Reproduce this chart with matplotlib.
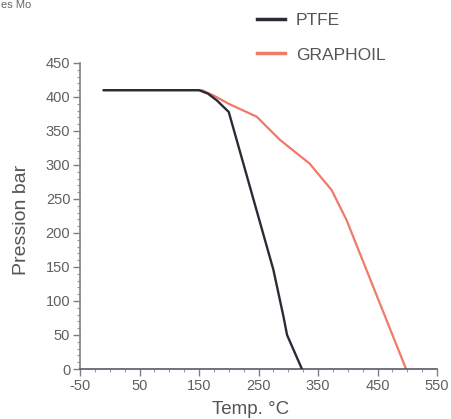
import matplotlib
matplotlib.use("Agg")
import matplotlib.pyplot as plt
from matplotlib.ticker import MultipleLocator

# Data
ptfe_temp = [-10, 150, 165, 180, 200, 275, 292, 298, 323]
ptfe_pres = [410, 410, 405, 395, 378, 146, 77, 50, 0]
graph_temp = [-10, 155, 175, 200, 247, 286, 336, 373, 398, 498]
graph_pres = [410, 410, 402, 390, 371, 337, 302, 263, 219, 0]
xticks = [-50, 50, 150, 250, 350, 450, 550]
yticks = [0, 50, 100, 150, 200, 250, 300, 350, 400, 450]

plt.rcParams['font.family'] = ['Liberation Sans', 'DejaVu Sans']
plt.rcParams['axes.unicode_minus'] = False

fig = plt.figure(figsize=(4.51, 4.19), dpi=100)
ax = fig.add_axes([80/451, 1-369/419, 357/451, 306/419])

l1, = ax.plot(ptfe_temp, ptfe_pres, color='#2b2b36', lw=1.7, label='PTFE', zorder=3)
l2, = ax.plot(graph_temp, graph_pres, color='#ef7a68', lw=1.6, label='GRAPHOIL', zorder=2)

ax.set_xlim(-50, 550)
ax.set_ylim(0, 450)
ax.set_xticks(xticks)
ax.set_yticks(yticks)
ax.xaxis.set_minor_locator(MultipleLocator(25))
ax.yaxis.set_minor_locator(MultipleLocator(10))
for s in ['top', 'right']:
    ax.spines[s].set_visible(False)
ax.spines['left'].set_color('#808080')
ax.spines['bottom'].set_color('#5a5a6a')
ax.spines['left'].set_linewidth(1.2)
ax.spines['bottom'].set_linewidth(1.2)
ax.tick_params(axis='both', which='major', length=5, width=1, color='#808080',
               labelcolor='#606060', labelsize=10.5, pad=2)
ax.tick_params(axis='both', which='minor', length=2.5, width=0.8, color='#9a9a9a')

ax.set_xlabel('Temp. °C', fontsize=13.5, color='#555555')
ax.set_ylabel('Pression bar', fontsize=14, color='#555555')
ax.xaxis.set_label_coords(0.479, -0.105)
ax.yaxis.set_label_coords(-0.14, 0.487)

fig.legend(handles=[l1, l2], loc='upper left', bbox_to_anchor=(245/451, 1-1/419),
           frameon=False, fontsize=12.5, handlelength=1.6, handletextpad=0.63,
           labelspacing=1.1, borderaxespad=0.3, labelcolor='#555555')
for lh in fig.legends[0].get_lines():
    lh.set_linewidth(2.5)

fig.text(1/451, 1-0.5/419, 'es Mo', fontsize=8, color='#666666', va='top', ha='left')

fig.savefig('out.png', dpi=100)
